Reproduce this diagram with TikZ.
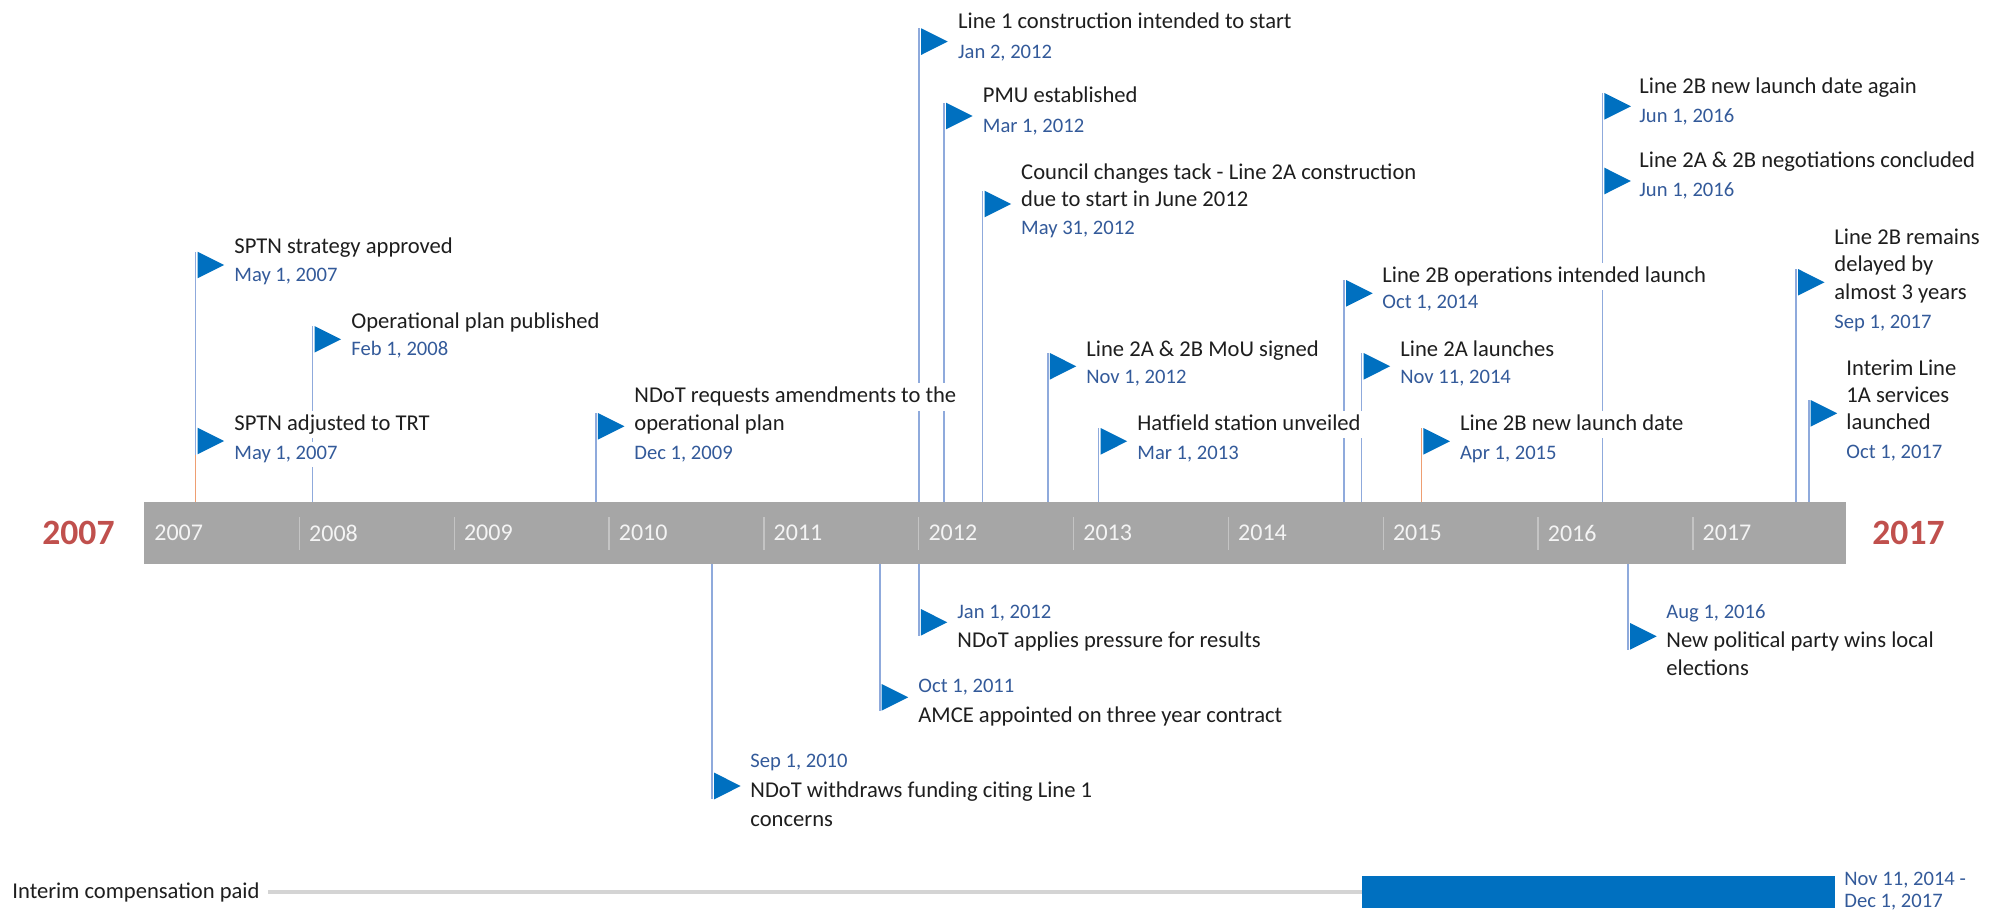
\documentclass[tikz,border=0pt]{standalone}
\usepackage{fontspec}
\setmainfont{Carlito}

\definecolor{barcol}{HTML}{A6A6A6}
\definecolor{sepcol}{HTML}{C4C4C4}
\definecolor{yrcol}{HTML}{F4F4F4}
\definecolor{bigyr}{HTML}{C0504D}
\definecolor{flagcol}{HTML}{0070C0}
\definecolor{polecol}{HTML}{8FAADC}
\definecolor{polealtcol}{HTML}{EE9E72}
\definecolor{titlecol}{HTML}{1E1E1E}
\definecolor{datecol}{HTML}{335A9A}
\definecolor{spancol}{HTML}{D4D4D4}

\newcommand\evtitlefont{\fontsize{11.3}{13.8}\selectfont}
\newcommand\evdatefont{\fontsize{10.3}{12.5}\selectfont}

% flag pennant: pole x, top y (picture units, y grows downward)
\newcommand\flagat[2]{\fill[flagcol] (#1+2,#2) -- (#1+28.5,#2+13.3) -- (#1+2,#2+26.6) -- cycle;}
% pole rising from the top of the axis bar
\newcommand\poleup[3][pole]{\draw[#1] (#2,502) -- (#2,#3);}
% pole hanging from the bottom of the axis bar
\newcommand\poledown[2]{\draw[pole] (#1,564) -- (#1,#2);}

\tikzset{
  ttl/.style={anchor=base west, inner xsep=1pt, inner ysep=0pt, fill=white,
    text=titlecol, font=\evtitlefont, execute at begin node=\strut},
  dte/.style={anchor=base west, inner xsep=1pt, inner ysep=0pt, fill=white,
    text=datecol, font=\evdatefont, execute at begin node=\strut},
  pole/.style={draw=polecol, line width=0.8pt},
  polealt/.style={draw=polealtcol, line width=0.8pt},
  yearlbl/.style={anchor=west, inner sep=0pt, text=yrcol, font=\fontsize{12}{14}\selectfont},
  bigyear/.style={anchor=west, inner sep=0pt, text=bigyr, font=\fontsize{17.8}{21}\selectfont\bfseries},
}

\begin{document}
\begin{tikzpicture}[x=0.5pt,y=-0.5pt]
\useasboundingbox (0,0) rectangle (2004,915);
\fill[white] (0,0) rectangle (2004,915);

% axis bar with year cells
\node[fill=barcol, inner sep=0pt, minimum width=851pt, minimum height=31pt, anchor=north west] (axis) at (144,502) {};
\foreach \k in {1,...,10}{
  \draw[sepcol, line width=0.6pt] (144.6+154.83*\k,517) -- (144.6+154.83*\k,550);
}
\foreach \k in {0,...,10}{
  \pgfmathtruncatemacro\yr{2007+\k}
  \node[yearlbl] (y\yr) at (144.6+154.83*\k+9.4,533) {\yr};
}
\node[bigyear] (start) at (42,533) {2007};
\node[bigyear] (end) at (1872,533) {2017};

% poles above the axis
\poleup{195.5}{251.7}
\poleup{312.5}{326}
\poleup{595.9}{413}
\poleup{919.2}{28.3}
\poleup{944.1}{102.7}
\poleup{982.6}{190.7}
\poleup{1047.8}{353}
\poleup{1098.6}{428}
\poleup{1344.2}{280}
\poleup{1361.6}{353}
\poleup{1602.4}{93}
\poleup{1796}{269}
\poleup{1808.7}{400}
\poleup[polealt]{195.5}{455}
\poleup[polealt]{1421.4}{428}

% poles below the axis
\poledown{712.2}{799.3}
\poledown{879.7}{710.6}
\poledown{918.8}{635.6}
\poledown{1628.2}{649.6}

% event texts above the axis
\node[ttl] (e1t) at (232,253.7) {SPTN strategy approved};
\node[dte] (e1d) at (232,281.2) {May 1, 2007};
\node[ttl] (e2t) at (232,430) {SPTN adjusted to TRT};
\node[dte] (e2d) at (232,459.5) {May 1, 2007};
\node[ttl] (e3t) at (349,328.3) {Operational plan published};
\node[dte] (e3d) at (349,355.5) {Feb 1, 2008};
\node[ttl] (e4t) at (632,402.7) {NDoT requests amendments to the};
\node[ttl] (e4u) at (632,430.3) {operational plan};
\node[dte] (e4d) at (632,459.5) {Dec 1, 2009};
\node[ttl] (e5t) at (955.7,28.7) {Line 1 construction intended to start};
\node[dte] (e5d) at (955.7,58.2) {Jan 2, 2012};
\node[ttl] (e6t) at (980.5,102.7) {PMU established};
\node[dte] (e6d) at (980.5,132.2) {Mar 1, 2012};
\node[ttl] (e7t) at (1018.8,179.3) {Council changes tack - Line 2A construction};
\node[ttl] (e7u) at (1018.8,206) {due to start in June 2012};
\node[dte] (e7d) at (1018.8,234.8) {May 31, 2012};
\node[ttl] (e8t) at (1084,356) {Line 2A \& 2B MoU signed};
\node[dte] (e8d) at (1084,383.2) {Nov 1, 2012};
\node[ttl] (e9t) at (1135,430) {Hatfield station unveiled};
\node[dte] (e9d) at (1135,459.5) {Mar 1, 2013};
\node[ttl] (e10t) at (1380,282) {Line 2B operations intended launch};
\node[dte] (e10d) at (1380,308.2) {Oct 1, 2014};
\node[ttl] (e11t) at (1398,356) {Line 2A launches};
\node[dte] (e11d) at (1398,383.2) {Nov 11, 2014};
\node[ttl] (e12t) at (1457.6,430) {Line 2B new launch date};
\node[dte] (e12d) at (1457.6,459.5) {Apr 1, 2015};
\node[ttl] (e13t) at (1637,93.3) {Line 2B new launch date again};
\node[dte] (e13d) at (1637,122.2) {Jun 1, 2016};
\node[ttl] (e14t) at (1637,167.7) {Line 2A \& 2B negotiations concluded};
\node[dte] (e14d) at (1637,196.5) {Jun 1, 2016};
\node[ttl] (e15t) at (1832,244.3) {Line 2B remains};
\node[ttl] (e15u) at (1832,271.7) {delayed by};
\node[ttl] (e15v) at (1832,299.3) {almost 3 years};
\node[dte] (e15d) at (1832,328.2) {Sep 1, 2017};
\node[ttl] (e16t) at (1844,375.3) {Interim Line};
\node[ttl] (e16u) at (1844,402.7) {1A services};
\node[ttl] (e16v) at (1844,429.3) {launched};
\node[dte] (e16d) at (1844,458.8) {Oct 1, 2017};

% event texts below the axis
\node[dte] (e17d) at (748,767.2) {Sep 1, 2010};
\node[ttl] (e17t) at (748,797.7) {NDoT withdraws funding citing Line 1};
\node[ttl] (e17u) at (748,826) {concerns};
\node[dte] (e18d) at (916,692.8) {Oct 1, 2011};
\node[ttl] (e18t) at (916,722) {AMCE appointed on three year contract};
\node[dte] (e19d) at (955,618.5) {Jan 1, 2012};
\node[ttl] (e19t) at (955,647.7) {NDoT applies pressure for results};
\node[dte] (e20d) at (1664,618.2) {Aug 1, 2016};
\node[ttl] (e20t) at (1664,647.7) {New political party wins local};
\node[ttl] (e20u) at (1664,675) {elections};

% flags
\flagat{195.5}{251.7}
\flagat{195.5}{427.7}
\flagat{312.5}{326}
\flagat{595.9}{413}
\flagat{919.2}{28.3}
\flagat{944.1}{102.7}
\flagat{982.6}{190.7}
\flagat{1047.8}{353}
\flagat{1098.6}{428}
\flagat{1344.2}{280}
\flagat{1361.6}{353}
\flagat{1421.4}{428}
\flagat{1602.4}{93}
\flagat{1602.4}{167.7}
\flagat{1796}{269}
\flagat{1808.7}{400}
\flagat{712.2}{772.7}
\flagat{879.7}{684}
\flagat{918.8}{609}
\flagat{1628.2}{623}

% interim compensation span
\node[ttl, fill=none] (ic) at (10,898) {Interim compensation paid};
\node[fill=flagcol, inner sep=0pt, minimum width=236.5pt, minimum height=16pt, anchor=west] (icbar) at (1361.6,892) {};
\draw[spancol, line width=1.6pt] ([xshift=3pt]ic.east |- icbar.west) -- (icbar.west);
\node[dte, fill=none] (icd1) at (1842,885.5) {Nov 11, 2014 -};
\node[dte, fill=none] (icd2) at (1842,907.5) {Dec 1, 2017};
\end{tikzpicture}
\end{document}
